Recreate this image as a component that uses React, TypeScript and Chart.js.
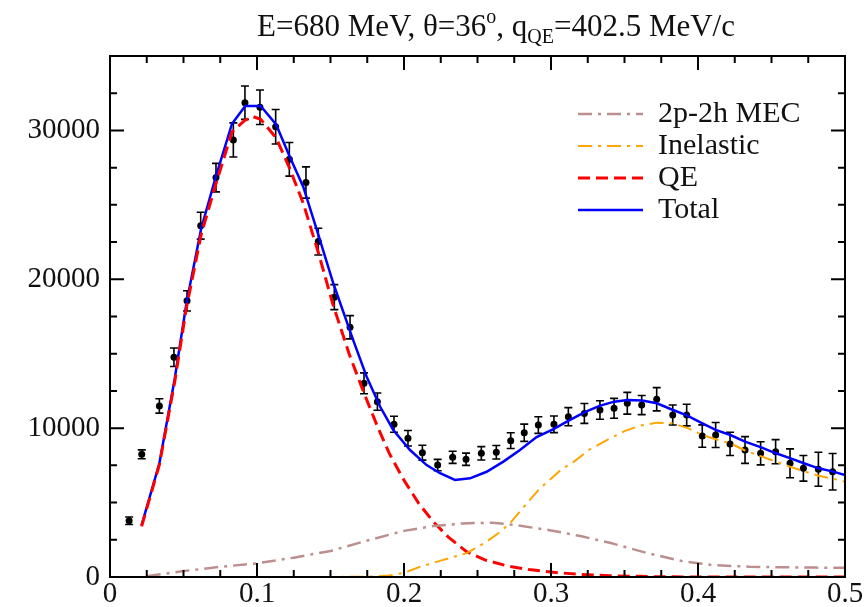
import { useEffect, useRef } from "react";
import { Chart, registerables } from "chart.js";

Chart.register(...registerables);

// Axis tick labels
const xTicks = [0, 0.1, 0.2, 0.3, 0.4, 0.5];
const yTicks = [0, 10000, 20000, 30000];
const xMinorStep = 0.025;
const yMinorStep = 2500;

// Measured cross section with errors
const dataX = [
  0.013, 0.0216, 0.0336, 0.0435, 0.0524, 0.0617, 0.0721, 0.0839, 0.0918, 0.102,
  0.1127, 0.122, 0.1333, 0.1417, 0.1526, 0.1633, 0.1728, 0.1819, 0.1932, 0.2027,
  0.2125, 0.2229, 0.2331, 0.2422, 0.2526, 0.2628, 0.2726, 0.2818, 0.2914, 0.302,
  0.3118, 0.3227, 0.3333, 0.3429, 0.3519, 0.3617, 0.3719, 0.3828, 0.3923, 0.4029,
  0.412, 0.4218, 0.432, 0.4426, 0.4528, 0.4626, 0.4717, 0.4819, 0.4916,
];
const dataY = [
  3780, 8240, 11490, 14760, 18550, 23600, 26830, 29360, 31860, 31560,
  30250, 28060, 26500, 22530, 18800, 16780, 13010, 11780, 10260, 9320,
  8350, 7520, 8040, 7910, 8310, 8380, 9160, 9690, 10210, 10260,
  10770, 10990, 11220, 11330, 11670, 11550, 11940, 10880, 10880, 9470,
  9540, 8940, 8530, 8310, 8420, 7640, 7300, 7240, 7070,
];
const dataErr = [
  250, 300, 480, 620, 680, 900, 960, 1150, 1120, 1160,
  1160, 1130, 1050, 900, 840, 780, 700, 580, 540, 520,
  500, 380, 410, 410, 450, 450, 530, 580, 560, 560,
  610, 670, 620, 670, 730, 640, 780, 670, 730, 750,
  840, 780, 900, 780, 810, 970, 860, 1140, 1230,
];

// Total model
const totalX = [
  0.0215, 0.0336, 0.044, 0.052, 0.062, 0.072, 0.083, 0.092, 0.1025, 0.113,
  0.122, 0.1315, 0.1417, 0.152, 0.1655, 0.1746, 0.1837, 0.1927, 0.2041, 0.2154,
  0.2245, 0.2347, 0.2449, 0.2562, 0.2676, 0.2789, 0.2902, 0.302, 0.312, 0.323,
  0.333, 0.343, 0.352, 0.362, 0.372, 0.383, 0.392, 0.403, 0.412, 0.422,
  0.432, 0.443, 0.453, 0.463, 0.472, 0.482, 0.492, 0.5,
];
const totalY = [
  3490, 7640, 13300, 18400, 23400, 26900, 30450, 31640, 31640, 30400,
  28300, 26200, 23000, 19700, 15900, 13450, 11450, 9880, 8530, 7520,
  6970, 6520, 6630, 7070, 7750, 8530, 9400, 9950, 10500, 11080,
  11500, 11780, 11890, 11850, 11670, 11220, 10880, 10320, 9880, 9540,
  9090, 8710, 8310, 7970, 7640, 7300, 7080, 6850,
];

// Quasi-elastic contribution
const qeX = [
  0.0215, 0.0336, 0.044, 0.052, 0.062, 0.072, 0.083, 0.092, 0.0975, 0.1025,
  0.113, 0.122, 0.1315, 0.1417, 0.152, 0.163, 0.173, 0.182, 0.19, 0.2,
  0.21, 0.22, 0.23, 0.2426, 0.255, 0.27, 0.285, 0.3, 0.32, 0.34,
  0.37, 0.4, 0.45, 0.5,
];
const qeY = [
  3400, 7550, 13100, 18100, 23000, 26400, 29900, 30700, 30920, 30750,
  29500, 27500, 25100, 21800, 18200, 14900, 12300, 10100, 8300, 6500,
  4950, 3700, 2700, 1700, 1150, 750, 500, 330, 170, 80,
  20, 0, 0, 0,
];

// Inelastic contribution
const inelX = [
  0.025, 0.1, 0.15, 0.18, 0.19, 0.2, 0.211, 0.225, 0.2426, 0.255,
  0.265, 0.272, 0.2857, 0.2925, 0.3, 0.308, 0.315, 0.326, 0.338, 0.35,
  0.36, 0.372, 0.383, 0.393, 0.403, 0.412, 0.422, 0.432, 0.443, 0.453,
  0.463, 0.472, 0.482, 0.492, 0.5,
];
const inelY = [
  0, 0, 0, 30, 100, 280, 690, 1100, 1600, 2300,
  3000, 3600, 5200, 5950, 6600, 7300, 7700, 8550, 9200, 9800,
  10150, 10370, 10320, 10000, 9540, 9250, 8980, 8500, 8100, 7750,
  7400, 7100, 6800, 6600, 6400,
];

// 2p-2h meson exchange currents
const mecX = [
  0.025, 0.05, 0.075, 0.1, 0.125, 0.15, 0.175, 0.2, 0.22, 0.24,
  0.26, 0.275, 0.3, 0.32, 0.34, 0.365, 0.39, 0.41, 0.435, 0.46,
  0.48, 0.5,
];
const mecY = [
  50, 400, 680, 920, 1300, 1750, 2450, 3100, 3420, 3600,
  3650, 3500, 3130, 2750, 2300, 1620, 1050, 800, 690, 650,
  630, 620,
];

// Title pieces: main text, superscript degree mark, subscript
const titleParts = [
  { text: "E=680 MeV, \u03b8=36", size: 31, dy: 0 },
  { text: "o", size: 20, dy: -13 },
  { text: ", q", size: 31, dy: 0 },
  { text: "QE", size: 20, dy: 7 },
  { text: "=402.5 MeV/c", size: 31, dy: 0 },
];

const FONT = '"Liberation Serif", "Times New Roman", Times, serif';
const DATA_INDEX = 4;

const pts = (xs: number[], ys: number[]) => xs.map((x, i) => ({ x, y: ys[i] }));

const errorBars = {
  id: "errorBars",
  beforeDatasetDraw(chart: any, args: any) {
    if (args.index !== DATA_INDEX) return;
    const { ctx, scales, chartArea } = chart;
    const xs = scales.x;
    const ys = scales.y;
    ctx.save();
    ctx.beginPath();
    ctx.rect(chartArea.left, chartArea.top, chartArea.right - chartArea.left, chartArea.bottom - chartArea.top);
    ctx.clip();
    ctx.strokeStyle = "#000";
    ctx.lineWidth = 1.6;
    const cap = 4;
    dataX.forEach((xv, i) => {
      const px = xs.getPixelForValue(xv);
      const top = ys.getPixelForValue(dataY[i] + dataErr[i]);
      const bot = ys.getPixelForValue(dataY[i] - dataErr[i]);
      ctx.beginPath();
      ctx.moveTo(px, top);
      ctx.lineTo(px, bot);
      ctx.moveTo(px - cap, top);
      ctx.lineTo(px + cap, top);
      ctx.moveTo(px - cap, bot);
      ctx.lineTo(px + cap, bot);
      ctx.stroke();
    });
    ctx.restore();
  },
};

const frameAndTicks = {
  id: "frameAndTicks",
  afterDatasetsDraw(chart: any) {
    const { ctx, chartArea: a, scales } = chart;
    const xs = scales.x;
    const ys = scales.y;
    ctx.save();
    ctx.strokeStyle = "#000";
    ctx.lineWidth = 2;
    ctx.strokeRect(a.left, a.top, a.right - a.left, a.bottom - a.top);
    ctx.beginPath();
    const nx = Math.round((xs.max - xs.min) / xMinorStep);
    for (let i = 0; i <= nx; i++) {
      const px = xs.getPixelForValue(xs.min + i * xMinorStep);
      const len = i % 4 === 0 ? 14 : 7;
      ctx.moveTo(px, a.bottom);
      ctx.lineTo(px, a.bottom - len);
      ctx.moveTo(px, a.top);
      ctx.lineTo(px, a.top + len);
    }
    const ny = Math.round((ys.max - ys.min) / yMinorStep);
    for (let i = 0; i <= ny; i++) {
      const py = ys.getPixelForValue(ys.min + i * yMinorStep);
      const len = i % 4 === 0 ? 14 : 7;
      ctx.moveTo(a.left, py);
      ctx.lineTo(a.left + len, py);
      ctx.moveTo(a.right, py);
      ctx.lineTo(a.right - len, py);
    }
    ctx.stroke();
    ctx.restore();
  },
};

const legendBox = {
  id: "legendBox",
  afterDraw(chart: any) {
    const { ctx } = chart;
    ctx.save();
    ctx.font = `30px ${FONT}`;
    ctx.textBaseline = "middle";
    ctx.fillStyle = "#111";
    for (let i = 0; i < DATA_INDEX; i++) {
      const ds = chart.data.datasets[i];
      const y = 114 + i * 32;
      ctx.beginPath();
      ctx.strokeStyle = ds.borderColor;
      ctx.lineWidth = ds.borderWidth;
      ctx.setLineDash(ds.borderDash || []);
      ctx.moveTo(578, y);
      ctx.lineTo(643, y);
      ctx.stroke();
      ctx.setLineDash([]);
      ctx.fillText(ds.label, 658, y);
    }
    ctx.restore();
  },
};

const titleText = {
  id: "titleText",
  afterDraw(chart: any) {
    const { ctx } = chart;
    ctx.save();
    ctx.fillStyle = "#111";
    ctx.textBaseline = "alphabetic";
    let total = 0;
    const widths = titleParts.map((p) => {
      ctx.font = `${p.size}px ${FONT}`;
      const w = ctx.measureText(p.text).width;
      total += w;
      return w;
    });
    let x = 496 - total / 2;
    const base = 36;
    titleParts.forEach((p, i) => {
      ctx.font = `${p.size}px ${FONT}`;
      ctx.fillText(p.text, x, base + p.dy);
      x += widths[i];
    });
    ctx.restore();
  },
};

export default function App() {
  const ref = useRef<HTMLCanvasElement>(null);

  useEffect(() => {
    document.body.style.margin = "0";
    const canvas = ref.current;
    if (!canvas) return;
    const line = (label: string, xs: number[], ys: number[], color: string, width: number, dash: number[]) => ({
      label,
      data: pts(xs, ys),
      showLine: true,
      borderColor: color,
      backgroundColor: color,
      borderWidth: width,
      borderDash: dash,
      pointRadius: 0,
      tension: 0,
      fill: false,
    });
    const chart = new Chart(canvas, {
      type: "scatter",
      data: {
        datasets: [
          line("2p-2h MEC", mecX, mecY, "#bc8f8f", 2.5, [14, 6, 3, 6]),
          line("Inelastic", inelX, inelY, "#ffa500", 2, [14, 6, 3, 6]),
          line("QE", qeX, qeY, "#ff0000", 3, [12, 6]),
          line("Total", totalX, totalY, "#0000ff", 2.5, []),
          {
            label: "data",
            data: pts(dataX, dataY),
            showLine: false,
            pointRadius: 3.5,
            pointHoverRadius: 3.5,
            backgroundColor: "#000",
            borderColor: "#000",
            borderWidth: 0,
          },
        ] as any,
      },
      options: {
        responsive: false,
        animation: false,
        devicePixelRatio: 1,
        events: [],
        layout: { padding: { top: 56, right: 22, left: 0, bottom: 0 } },
        plugins: {
          legend: { display: false },
          tooltip: { enabled: false },
          title: { display: false },
        },
        scales: {
          x: {
            type: "linear",
            min: 0,
            max: 0.5,
            grid: { display: false, drawTicks: false },
            border: { display: false },
            ticks: {
              autoSkip: false,
              maxRotation: 0,
              padding: 0,
              color: "#111",
              font: { family: FONT, size: 29 },
              callback: (v: any) => (v === 0 ? "0" : Number(v).toFixed(1)),
            },
            afterBuildTicks: (s: any) => {
              s.ticks = xTicks.map((v) => ({ value: v }));
            },
            afterFit: (s: any) => {
              s.height = 30;
              s.paddingLeft = 0;
              s.paddingRight = 0;
            },
          },
          y: {
            type: "linear",
            min: 0,
            max: 35000,
            grid: { display: false, drawTicks: false },
            border: { display: false },
            ticks: {
              autoSkip: false,
              padding: 10,
              color: "#111",
              font: { family: FONT, size: 29 },
              callback: (v: any) => String(v),
            },
            afterBuildTicks: (s: any) => {
              s.ticks = yTicks.map((v) => ({ value: v }));
            },
            afterFit: (s: any) => {
              s.width = 110;
              s.paddingTop = 0;
              s.paddingBottom = 0;
            },
          },
        },
      } as any,
      plugins: [errorBars, frameAndTicks, legendBox, titleText],
    });
    return () => chart.destroy();
  }, []);

  return (
    <div style={{ width: 867, height: 607, background: "#fff" }}>
      <canvas ref={ref} width={867} height={607} style={{ display: "block" }} />
    </div>
  );
}
